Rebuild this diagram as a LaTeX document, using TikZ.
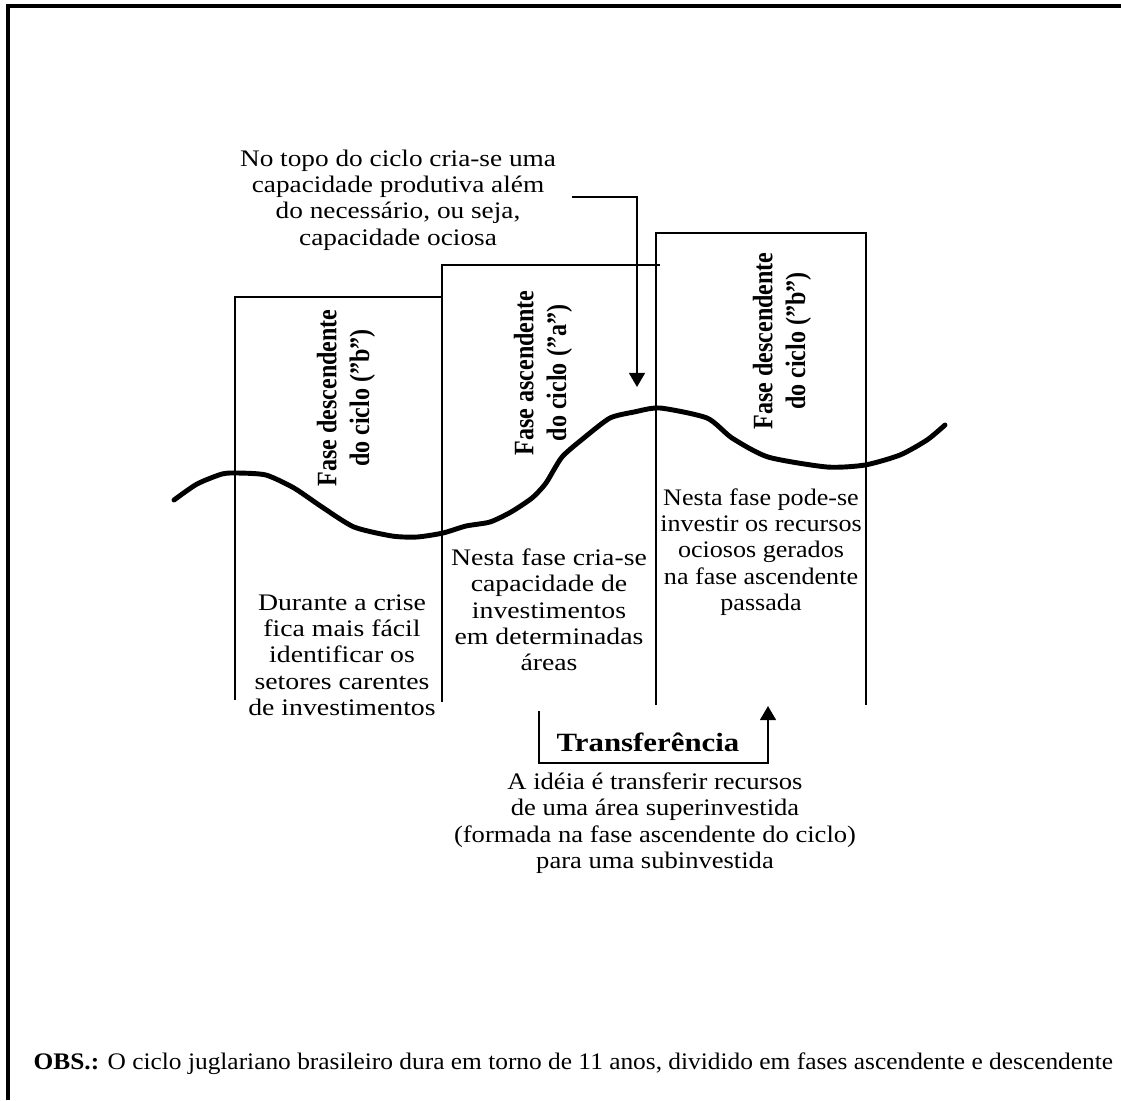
\documentclass[tikz,border=0pt]{standalone}
\usepackage{fontspec}
\setmainfont{Liberation Serif}
\usetikzlibrary{arrows.meta, positioning}

\begin{document}
\begin{tikzpicture}[x=0.02cm, y=-0.02cm, >={Triangle[length=8pt, width=9pt]}]
    \tikzstyle{box} = [line width=1.1pt]
    \tikzstyle{wave} = [line width=2.8pt, line join=round, line cap=round]
    \tikzstyle{fase} = [font=\fontsize{13.7}{16}\selectfont\bfseries, align=center, xscale=1.17, rotate=90]
    \tikzstyle{texto} = [font=\fontsize{13.5}{15}\selectfont, align=center]
    \tikzstyle{largo} = [xscale=1.17]
    \tikzstyle{seta} = [line width=1.1pt, ->]

    \useasboundingbox (0,0) rectangle (1121,1100);

    % Moldura
    \draw[line width=2.2pt] (8,1100) -- (8,6) -- (1121,6);

    % Ciclo
    \draw[wave] plot[smooth, tension=0.4] coordinates {(174,500) (197,484) (222,474) (238,473) (266,475) (294,488) (322,507) (354,527) (392,536) (417,537) (443,533) (466,526) (490,522) (511,512) (532,498) (546,483) (562,457) (585,437) (610,418) (634,412) (660,408) (707,418) (732,438) (768,457) (827,467) (865,465) (900,455) (927,440) (945,425)};

    % Fases
    \draw[box] (235,700) -- (235,297) -- (442,297);
    \draw[box] (442,702) -- (442,265) -- (660,265);
    \draw[box] (656,705) -- (656,233) -- (866,233) -- (866,705);

    \node[fase] (fb1) at (346,398) {Fase descendente\\do ciclo (”b”)};
    \node[fase] (fa) at (543,373) {Fase ascendente\\do ciclo (”a”)};
    \node[fase] (fb2) at (782,341) {Fase descendente\\do ciclo (”b”)};

    \node[texto, largo] (crise) at (342,655) {Durante a crise\\fica mais fácil\\identificar os\\setores carentes\\de investimentos};
    \node[texto, largo] (cria) at (549,610) {Nesta fase cria-se\\capacidade de\\investimentos\\em determinadas\\áreas};
    \node[texto, xscale=1.10] (pode) at (761,552) {Nesta fase pode-se\\investir os recursos\\ociosos gerados\\na fase ascendente\\passada};

    % Topo do ciclo
    \node[texto, xscale=1.15] (topo) at (398,200) {No topo do ciclo cria-se uma\\capacidade produtiva além\\do necessário, ou seja,\\capacidade ociosa};
    \coordinate (topo0) at (572,197);
    \coordinate (pico) at (637,387);
    \draw[seta] (topo0) -| (pico);

    % Transferencia
    \node[font=\fontsize{15}{17}\selectfont\bfseries, largo] (transf) at (648,742) {Transferência};
    \coordinate (tr1) at (539,711);
    \coordinate (trbase) at (539,763);
    \coordinate (tr2) at (768,706);
    \draw[seta] (tr1) -- (trbase) -| (tr2);
    \node[texto, xscale=1.12] (ideia) at (655,823) {A idéia é transferir recursos\\de uma área superinvestida\\(formada na fase ascendente do ciclo)\\para uma subinvestida};

    % Observacao
    \node[texto, xscale=1.07, anchor=west] (obs) at (27,1064) {\textbf{OBS.:} O ciclo juglariano brasileiro dura em torno de 11 anos, dividido em fases ascendente e descendente};
\end{tikzpicture}
\end{document}
